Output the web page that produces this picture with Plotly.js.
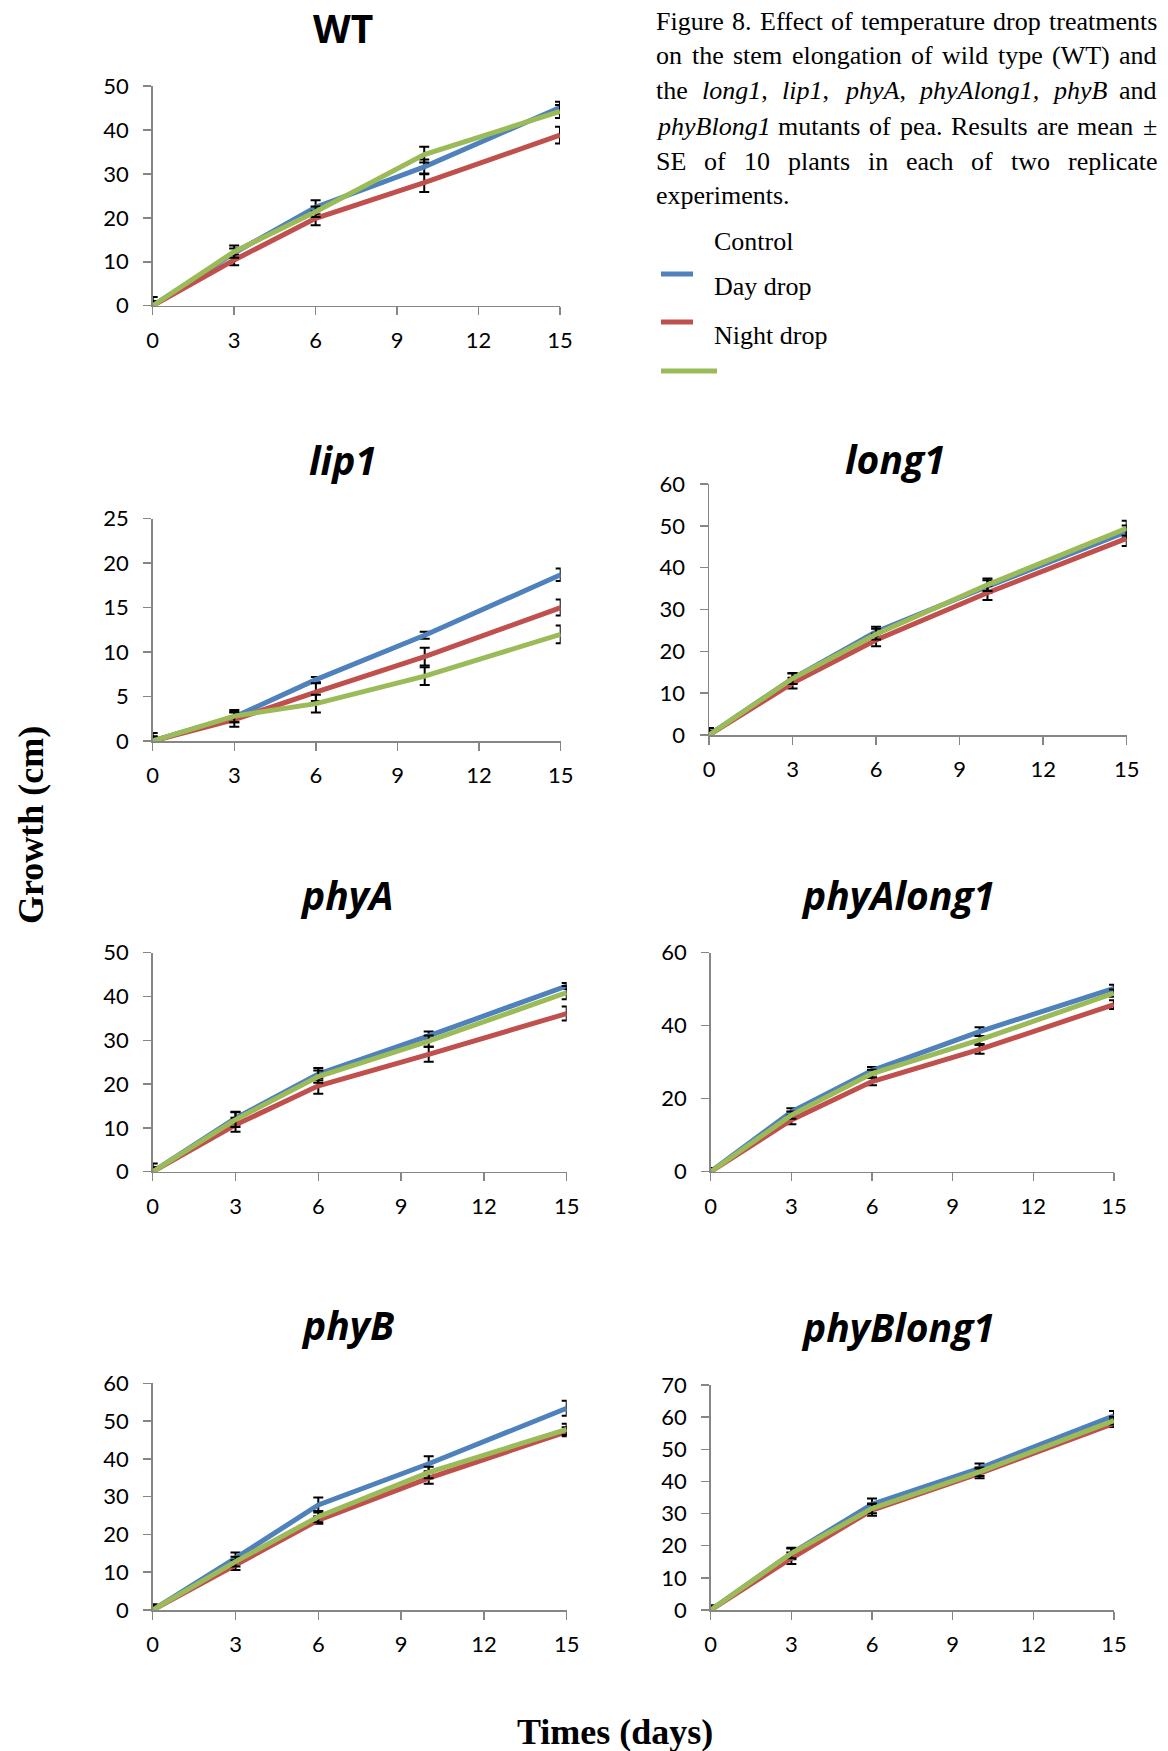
<!DOCTYPE html>
<html>
<head>
<meta charset="utf-8">
<script src="https://cdn.plot.ly/plotly-3.0.1.min.js"></script>
<style>
  html, body { margin: 0; padding: 0; background: #ffffff; }
  #chart { width: 1168px; height: 1751px; }
</style>
</head>
<body>
<div id="chart"></div>
<script>
// ---------------- DATA ----------------
const days = [0, 3, 6, 10, 15];
const xTickVals = [0, 3, 6, 9, 12, 15];
const seriesNames = ['Control', 'Day drop', 'Night drop'];
const seriesColors = ['#4F81BD', '#C0504D', '#9BBB59'];
const panelTitles = ['WT', 'lip1', 'long1', 'phyA', 'phyAlong1', 'phyB', 'phyBlong1'];
const panelYMax = [50, 25, 60, 50, 60, 60, 70];
const panelYStep = [10, 5, 10, 10, 20, 10, 10];

// WT
const wtControl   = [0, 12.0, 22.4, 31.6, 45.1];
const wtDayDrop   = [0, 10.4, 19.9, 28.0, 38.8];
const wtNightDrop = [0, 12.3, 21.4, 34.4, 44.2];
const wtControlSE   = [2.0, 1.0, 1.6, 1.7, 1.3];
const wtDayDropSE   = [1.0, 1.2, 1.6, 2.1, 1.9];
const wtNightDropSE = [1.0, 1.4, 1.2, 1.8, 1.5];
// lip1
const lip1Control   = [0, 2.7, 6.9, 11.9, 18.7];
const lip1DayDrop   = [0, 2.4, 5.5, 9.5, 15.0];
const lip1NightDrop = [0, 2.8, 4.2, 7.3, 12.0];
const lip1ControlSE   = [0.9, 0.6, 0.3, 0.4, 0.7];
const lip1DayDropSE   = [0.5, 0.8, 1.0, 1.0, 0.9];
const lip1NightDropSE = [0.5, 0.7, 1.0, 1.0, 1.0];
// long1
const long1Control   = [0, 13.5, 24.7, 35.5, 48.6];
const long1DayDrop   = [0, 12.4, 22.7, 34.0, 47.0];
const long1NightDrop = [0, 13.5, 24.1, 35.9, 49.4];
const long1ControlSE   = [1.7, 1.2, 1.2, 1.5, 1.5];
const long1DayDropSE   = [1.0, 1.3, 1.5, 1.7, 1.8];
const long1NightDropSE = [1.0, 1.3, 1.3, 1.5, 1.8];
// phyA
const phyAControl   = [0, 12.2, 22.3, 31.0, 42.4];
const phyADayDrop   = [0, 10.7, 19.6, 26.8, 36.1];
const phyANightDrop = [0, 11.9, 21.7, 29.8, 40.9];
const phyAControlSE   = [1.9, 1.5, 1.4, 1.0, 0.7];
const phyADayDropSE   = [1.0, 1.6, 1.8, 1.7, 1.6];
const phyANightDropSE = [1.0, 1.7, 1.4, 1.3, 1.5];
// phyAlong1
const phyAlong1Control   = [0, 16.4, 27.7, 38.4, 50.2];
const phyAlong1DayDrop   = [0, 14.2, 24.7, 33.5, 45.8];
const phyAlong1NightDrop = [0, 15.5, 26.9, 36.1, 48.9];
const phyAlong1ControlSE   = [1.0, 1.0, 1.0, 1.2, 1.0];
const phyAlong1DayDropSE   = [1.0, 1.2, 1.0, 1.2, 1.2];
const phyAlong1NightDropSE = [1.0, 1.0, 1.0, 1.1, 1.0];
// phyB
const phyBControl   = [0, 13.7, 27.8, 38.7, 53.4];
const phyBDayDrop   = [0, 11.9, 23.8, 34.9, 47.2];
const phyBNightDrop = [0, 12.8, 24.7, 36.4, 47.8];
const phyBControlSE   = [1.5, 1.5, 2.0, 2.0, 2.0];
const phyBDayDropSE   = [1.0, 1.3, 1.0, 1.5, 1.2];
const phyBNightDropSE = [1.0, 1.3, 1.5, 1.5, 1.5];
// phyBlong1
const phyBlong1Control   = [0, 17.6, 32.9, 44.1, 60.4];
const phyBlong1DayDrop   = [0, 16.1, 31.1, 42.5, 58.1];
const phyBlong1NightDrop = [0, 17.6, 31.6, 43.0, 58.9];
const phyBlong1ControlSE   = [1.5, 1.8, 1.8, 1.5, 1.5];
const phyBlong1DayDropSE   = [1.0, 1.8, 1.8, 1.5, 1.2];
const phyBlong1NightDropSE = [1.0, 1.5, 1.5, 1.3, 1.2];

const captionLines = [
  ['Figure', '8.', 'Effect', 'of', 'temperature', 'drop', 'treatments'],
  ['on', 'the', 'stem', 'elongation', 'of', 'wild', 'type', '(WT)', 'and'],
  ['the', '<i>long1</i>,', '<i>lip1</i>,', '<i>phyA</i>,', '<i>phyAlong1,</i>', '<i>phyB</i>', 'and'],
  ['<i>phyBlong1</i>', 'mutants', 'of', 'pea.', 'Results', 'are', 'mean', '±'],
  ['SE', 'of', '10', 'plants', 'in', 'each', 'of', 'two', 'replicate'],
  ['experiments.']
];
const yAxisTitle = 'Growth (cm)';
const xAxisTitle = 'Times (days)';

// ---------------- LAYOUT HELPERS ----------------
const W = 1168, H = 1751;
const PX = p => p / W;
const PY = p => 1 - p / H;

const panelData = [
  [wtControl, wtDayDrop, wtNightDrop, wtControlSE, wtDayDropSE, wtNightDropSE],
  [lip1Control, lip1DayDrop, lip1NightDrop, lip1ControlSE, lip1DayDropSE, lip1NightDropSE],
  [long1Control, long1DayDrop, long1NightDrop, long1ControlSE, long1DayDropSE, long1NightDropSE],
  [phyAControl, phyADayDrop, phyANightDrop, phyAControlSE, phyADayDropSE, phyANightDropSE],
  [phyAlong1Control, phyAlong1DayDrop, phyAlong1NightDrop, phyAlong1ControlSE, phyAlong1DayDropSE, phyAlong1NightDropSE],
  [phyBControl, phyBDayDrop, phyBNightDrop, phyBControlSE, phyBDayDropSE, phyBNightDropSE],
  [phyBlong1Control, phyBlong1DayDrop, phyBlong1NightDrop, phyBlong1ControlSE, phyBlong1DayDropSE, phyBlong1NightDropSE]
];

// plot-area pixel boxes: [left, right, bottom, top]; title centre [x, y]
const boxes = [
  [152.7, 560.0, 305.7, 86.0],
  [152.7, 560.7, 741.0, 518.7],
  [709.0, 1126.7, 735.0, 484.0],
  [152.7, 566.7, 1171.7, 952.7],
  [710.7, 1114.0, 1171.7, 952.7],
  [152.7, 566.7, 1610.0, 1383.3],
  [710.7, 1114.0, 1610.0, 1385.0]
];
const titlePos = [
  [343, 28], [343, 459], [895, 458], [347, 894], [898, 894], [347, 1324], [898, 1326]
];

const traces = [];
const layout = {
  width: W, height: H,
  margin: {l: 0, r: 0, t: 0, b: 0},
  paper_bgcolor: '#ffffff', plot_bgcolor: 'rgba(0,0,0,0)',
  showlegend: false,
  annotations: [], shapes: []
};

const axisCommon = {
  ticks: 'outside', ticklen: 8, tickwidth: 1.5, tickcolor: '#868686',
  showline: true, linecolor: '#868686', linewidth: 1.5,
  showgrid: false, zeroline: false, fixedrange: true,
  tickfont: {family: 'Lato, "Open Sans", sans-serif', size: 22, color: '#000000'}
};

panelData.forEach((pd, i) => {
  const n = i === 0 ? '' : String(i + 1);
  const xr = 'x' + n, yr = 'y' + n;
  const b = boxes[i];
  layout['xaxis' + n] = Object.assign({}, axisCommon, {
    domain: [PX(b[0]), PX(b[1])], anchor: yr, range: [0, 15],
    tickmode: 'array', tickvals: xTickVals, ticklabelstandoff: 6
  });
  layout['yaxis' + n] = Object.assign({}, axisCommon, {
    domain: [PY(b[2]), PY(b[3])], anchor: xr, range: [0, panelYMax[i]],
    tickmode: 'linear', tick0: 0, dtick: panelYStep[i], ticklabelstandoff: 10
  });
  for (let s = 0; s < 3; s++) {
    traces.push({
      type: 'scatter', mode: 'lines', x: days, y: pd[s],
      xaxis: xr, yaxis: yr, name: seriesNames[s],
      line: {color: seriesColors[s], width: 5},
      error_y: {type: 'data', array: pd[s + 3], visible: true, color: '#000000', thickness: 2, width: 5},
      cliponaxis: false, hoverinfo: 'skip'
    });
  }
  const t = panelTitles[i];
  layout.annotations.push({
    xref: 'paper', yref: 'paper', x: PX(titlePos[i][0]), y: PY(titlePos[i][1]),
    xanchor: 'center', yanchor: 'middle', showarrow: false,
    text: i === 0 ? '<b>' + t + '</b>' : '<b><i>' + t + '</i></b>',
    font: {family: '"Open Sans", Lato, sans-serif', size: 39, color: '#000000'}
  });
});

// axis titles
layout.annotations.push({
  xref: 'paper', yref: 'paper', x: PX(31), y: PY(825), xanchor: 'center', yanchor: 'middle',
  showarrow: false, textangle: -90, text: '<b>' + yAxisTitle + '</b>',
  font: {family: '"Liberation Serif", "Times New Roman", serif', size: 36, color: '#000000'}
});
layout.annotations.push({
  xref: 'paper', yref: 'paper', x: PX(615), y: PY(1732), xanchor: 'center', yanchor: 'middle',
  showarrow: false, text: '<b>' + xAxisTitle + '</b>',
  font: {family: '"Liberation Serif", "Times New Roman", serif', size: 36, color: '#000000'}
});

// caption, justified between left and right edges
const CAP_SIZE = 26;
const CAP_FONT = '"Liberation Serif", "Times New Roman", serif';
const capLeft = 656, capRight = 1157;
const capCentres = [21, 56, 91, 126, 161, 196];
const ctx = document.createElement('canvas').getContext('2d');
function measureWord(w) {
  let total = 0, it = false;
  w.split(/(<i>|<\/i>)/).forEach(p => {
    if (p === '<i>') { it = true; return; }
    if (p === '</i>') { it = false; return; }
    if (!p) return;
    ctx.font = (it ? 'italic ' : '') + CAP_SIZE + 'px "Liberation Serif"';
    total += ctx.measureText(p).width;
  });
  return total;
}
captionLines.forEach((words, li) => {
  const widths = words.map(measureWord);
  const sum = widths.reduce((a, b) => a + b, 0);
  const last = li === captionLines.length - 1;
  const gap = (!last && words.length > 1) ? (capRight - capLeft - sum) / (words.length - 1) : CAP_SIZE * 0.25;
  let x = capLeft;
  words.forEach((w, wi) => {
    layout.annotations.push({
      xref: 'paper', yref: 'paper', x: PX(x - 2), y: PY(capCentres[li]),
      xanchor: 'left', yanchor: 'middle', showarrow: false, text: w,
      font: {family: CAP_FONT, size: CAP_SIZE, color: '#000000'}
    });
    x += widths[wi] + gap;
  });
});

// legend (drawn as in the reference: swatch lines offset from their labels)
const legendTextY = [242, 287, 336];
const legendLineY = [274, 322, 371];
const legendLineX2 = [693, 693, 717];
seriesNames.forEach((nm, s) => {
  layout.annotations.push({
    xref: 'paper', yref: 'paper', x: PX(712), y: PY(legendTextY[s]),
    xanchor: 'left', yanchor: 'middle', showarrow: false, text: nm,
    font: {family: CAP_FONT, size: CAP_SIZE, color: '#000000'}
  });
  layout.shapes.push({
    type: 'line', xref: 'paper', yref: 'paper',
    x0: PX(661), x1: PX(legendLineX2[s]), y0: PY(legendLineY[s]), y1: PY(legendLineY[s]),
    line: {color: seriesColors[s], width: 5}
  });
});

Plotly.newPlot('chart', traces, layout, {displayModeBar: false, staticPlot: true});
</script>
</body>
</html>
